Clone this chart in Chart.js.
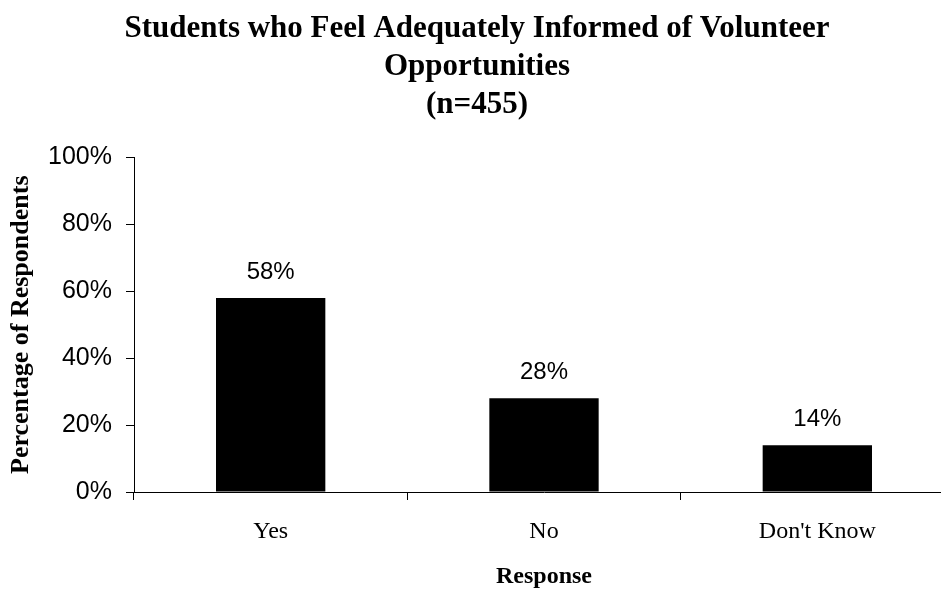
<!DOCTYPE html>
<html lang="en">
<head>
  <meta charset="UTF-8" />
  <title>Volunteer Opportunities</title>
  <script src="https://cdn.jsdelivr.net/npm/chart.js"></script>
  <style>
    body { margin: 0; background: #fff; overflow: hidden; }
    .wrap { position: absolute; left: 0; top: 0; width: 960px; height: 589px; }
  </style>
</head>
<body>
  <div class="wrap"><canvas id="barChart" width="960" height="589"></canvas></div>

  <script>
    // data
    const categories = ["Yes", "No", "Don't Know"];
    const percents = [58, 28, 14];
    const yTicks = [0, 20, 40, 60, 80, 100];
    const titleLines = ["Students who Feel Adequately Informed of Volunteer", "Opportunities", "(n=455)"];

    const serif = "'Liberation Serif', 'Times New Roman', serif";
    const sans = "'Liberation Sans', Arial, sans-serif";

    // labels above each bar
    const barLabels = {
      id: "barLabels",
      afterDatasetsDraw(chart) {
        const ctx = chart.ctx;
        const meta = chart.getDatasetMeta(0);
        ctx.save();
        ctx.font = "24px " + sans;
        ctx.fillStyle = "#000";
        ctx.textAlign = "center";
        ctx.textBaseline = "middle";
        meta.data.forEach((bar, i) => {
          ctx.fillText(percents[i] + "%", bar.x, bar.y - 26);
        });
        ctx.restore();
      }
    };

    new Chart(document.getElementById("barChart"), {
      type: "bar",
      data: {
        labels: categories,
        datasets: [{
          data: percents,
          backgroundColor: "#000",
          barPercentage: 0.4,
          categoryPercentage: 1
        }]
      },
      options: {
        responsive: false,
        animation: false,
        layout: { padding: { left: 0, right: 6, top: 0, bottom: 0 } },
        plugins: {
          legend: { display: false },
          tooltip: { enabled: false },
          title: {
            display: true,
            text: titleLines,
            color: "#000",
            font: { family: serif, size: 31, weight: "bold", lineHeight: 1.22 },
            padding: { top: 10, bottom: 34 }
          }
        },
        scales: {
          x: {
            afterFit(scale) { scale.height = 97; },
            grid: { display: true, offset: true, drawOnChartArea: false, drawTicks: true, tickLength: 8, color: "#000" },
            border: { color: "#000", width: 1 },
            ticks: { color: "#000", font: { family: serif, size: 24 }, padding: 17 },
            title: {
              display: true,
              text: "Response",
              color: "#000",
              font: { family: serif, size: 24, weight: "bold" },
              padding: { top: 14, bottom: -2 }
            }
          },
          y: {
            min: 0,
            max: 100,
            afterBuildTicks(scale) {
              scale.ticks = yTicks.map(v => ({ value: v }));
            },
            afterFit(scale) { scale.width = 134; },
            grid: { display: true, drawOnChartArea: false, drawTicks: true, tickLength: 8, color: "#000" },
            border: { color: "#000", width: 1 },
            ticks: {
              color: "#000",
              font: { family: sans, size: 25 },
              padding: 14,
              callback: v => v + "%"
            },
            title: {
              display: true,
              text: "Percentage of Respondents",
              color: "#000",
              font: { family: serif, size: 26, weight: "bold" },
              padding: { top: 6, bottom: 0 }
            }
          }
        }
      },
      plugins: [barLabels]
    });
  </script>
</body>
</html>
